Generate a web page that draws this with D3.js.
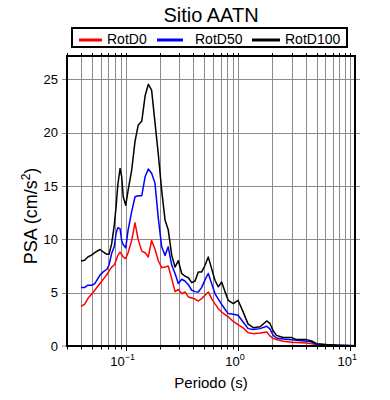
<!doctype html>
<html>
<head>
<meta charset="utf-8"/>
<style>
  html, body { margin: 0; padding: 0; background: #fff; }
  svg { display: block; font-family: "Liberation Sans", Arial, Helvetica, sans-serif; }
</style>
<script src="https://d3js.org/d3.v7.min.js"></script>
</head>
<body>
<svg id="chart" width="390" height="400"></svg>
<script>
// Periods (s) and pseudo-spectral accelerations
var periods = [0.04, 0.043, 0.046, 0.05, 0.053, 0.059, 0.063, 0.068, 0.071, 0.075,
  0.079, 0.082, 0.085, 0.089, 0.092, 0.095, 0.1, 0.105, 0.113, 0.121,
  0.129, 0.139, 0.149, 0.159, 0.17, 0.182, 0.195, 0.209, 0.224, 0.239,
  0.257, 0.275, 0.294, 0.315, 0.337, 0.361, 0.387, 0.414, 0.443, 0.475,
  0.508, 0.543, 0.582, 0.623, 0.667, 0.715, 0.765, 0.818, 0.907, 1.0,
  1.11, 1.23, 1.37, 1.57, 1.8, 1.92, 2.06, 2.2, 2.52, 3.0,
  3.32, 4.08, 4.52, 5.0, 6.14, 7.54, 8.93, 11];

var rotD0 = [3.73, 3.9, 4.45, 4.9, 5.23, 5.86, 6.25, 6.7, 7.05, 7.4,
  7.6, 8.0, 8.5, 8.8, 8.6, 8.35, 8.2, 8.75, 9.9, 11.55,
  10.0, 8.9, 8.75, 8.35, 9.9, 9.1, 8.0, 7.35, 7.4, 7.5,
  6.3, 5.1, 5.3, 4.9, 5.07, 4.6, 4.5, 4.4, 4.22, 4.45,
  4.76, 5.07, 4.45, 3.95, 3.5, 3.19, 2.95, 2.75, 2.3, 2.0,
  1.7, 1.25, 1.16, 1.22, 1.31, 0.95, 0.7, 0.6, 0.45, 0.35,
  0.32, 0.27, 0.2, 0.15, 0.09, 0.06, 0.04, 0.03];

var rotD50 = [5.48, 5.48, 5.7, 5.7, 5.85, 6.65, 6.95, 7.2, 7.6, 8.7,
  9.3, 10.55, 11.1, 11.0, 9.9, 9.5, 9.2, 10.86, 12.6, 14.0,
  14.1, 14.1, 15.9, 16.6, 16.2, 15.3, 12.0, 9.3, 8.5, 9.3,
  7.57, 6.8, 5.86, 6.26, 6.1, 5.75, 5.23, 5.1, 5.07, 5.5,
  6.2, 6.8, 5.86, 4.92, 4.4, 3.9, 3.45, 3.04, 2.97, 2.88,
  2.25, 1.63, 1.54, 1.63, 1.85, 1.6, 1.0, 0.75, 0.65, 0.58,
  0.55, 0.45, 0.38, 0.16, 0.1, 0.06, 0.04, 0.03];

var rotD100 = [7.98, 8.04, 8.35, 8.55, 8.75, 9.05, 8.82, 8.6, 8.6, 9.6,
  11.3, 13.0, 15.1, 16.65, 15.9, 14.0, 13.2, 14.6, 16.5, 19.2,
  20.7, 21.1, 23.5, 24.55, 24.0, 21.0, 18.0, 14.6, 11.8, 10.9,
  8.5, 7.4, 8.0, 6.8, 6.55, 6.4, 5.95, 6.1, 6.95, 6.95,
  7.57, 8.35, 7.26, 6.17, 5.55, 6.0, 5.1, 4.29, 3.98, 4.29,
  3.2, 2.05, 1.72, 1.8, 2.35, 2.13, 1.4, 1.0, 0.79, 0.79,
  0.6, 0.6, 0.47, 0.22, 0.13, 0.07, 0.05, 0.03];

var seriesNames = ["RotD0", "RotD50", "RotD100"];
var seriesColors = ["#ff0000", "#0000ff", "#000000"];
var yTicks = [0, 5, 10, 15, 20, 25];
var xDecades = [0.1, 1, 10];
var xDecadeExp = ["\u22121", "0", "1"];

(function() {
  var svg = d3.select("#chart");
  var pl = 67, pr = 355, pt = 56, pb = 346;

  var x = d3.scaleLog().domain([0.03, 11]).range([pl, pr]);
  var y = d3.scaleLinear().domain([0, 27.2]).range([pb, pt]);

  // minor grid positions: every 1..9 x decade inside the domain
  var gridX = [];
  [0.01, 0.1, 1, 10].forEach(function(dec) {
    for (var k = 1; k <= 9; k++) {
      var v = +(k * dec).toPrecision(3);
      if (v >= 0.03 && v <= 11) gridX.push(v);
    }
  });
  var px = function(d) { return Math.round(x(d)) + 0.5; };

  // title
  svg.append("text")
    .attr("x", (pl + pr) / 2).attr("y", 22)
    .attr("text-anchor", "middle")
    .attr("font-size", 20)
    .text("Sitio AATN");

  // legend
  var lg = svg.append("g");
  lg.append("rect")
    .attr("x", 72).attr("y", 28).attr("width", 275).attr("height", 19)
    .attr("fill", "#fff").attr("stroke", "#000").attr("stroke-width", 2);
  var legendPos = [[79, 102, 107], [157, 183, 195], [252, 280, 285]];
  seriesNames.forEach(function(name, i) {
    var p = legendPos[i];
    lg.append("line")
      .attr("x1", p[0]).attr("x2", p[1]).attr("y1", 40).attr("y2", 40)
      .attr("stroke", seriesColors[i]).attr("stroke-width", 3);
    lg.append("text")
      .attr("x", p[2]).attr("y", 44)
      .attr("font-size", 14)
      .text(name);
  });

  // grid
  var grid = svg.append("g").attr("stroke", "#8c8c8c").attr("stroke-width", 1);
  grid.selectAll(".vx").data(gridX).enter().append("line")
    .attr("x1", px).attr("x2", px)
    .attr("y1", pt).attr("y2", pb);
  grid.selectAll(".hy").data(yTicks.slice(1)).enter().append("line")
    .attr("y1", function(d) { return Math.round(y(d)) + 0.5; })
    .attr("y2", function(d) { return Math.round(y(d)) + 0.5; })
    .attr("x1", pl - 5).attr("x2", pr + 5);
  grid.append("line")
    .attr("x1", pl - 5).attr("x2", pl).attr("y1", pb).attr("y2", pb);

  // curves
  svg.append("clipPath").attr("id", "clip").append("rect")
    .attr("x", pl).attr("y", pt).attr("width", pr - pl).attr("height", pb - pt);

  var line = d3.line()
    .x(function(d) { return x(d[0]); })
    .y(function(d) { return y(d[1]); });

  [rotD0, rotD50, rotD100].forEach(function(vals, i) {
    svg.append("path")
      .datum(periods.map(function(p, j) { return [p, vals[j]]; }))
      .attr("clip-path", "url(#clip)")
      .attr("fill", "none")
      .attr("stroke", seriesColors[i])
      .attr("stroke-width", 1.5)
      .attr("stroke-linejoin", "round")
      .attr("d", line);
  });

  // frame
  svg.append("rect")
    .attr("x", pl).attr("y", pt).attr("width", pr - pl).attr("height", pb - pt)
    .attr("fill", "none").attr("stroke", "#000").attr("stroke-width", 2);

  // bottom and top ticks
  var ticks = svg.append("g").attr("stroke", "#000").attr("stroke-width", 1);
  ticks.selectAll(".bt").data(gridX).enter().append("line")
    .attr("x1", px).attr("x2", px)
    .attr("y1", pb)
    .attr("y2", function(d) { return xDecades.indexOf(d) >= 0 ? pb + 5 : pb + 3.5; });
  ticks.selectAll(".tt").data(gridX).enter().append("line")
    .attr("x1", px).attr("x2", px)
    .attr("y1", pt).attr("y2", pt - 3);

  // y tick labels
  svg.selectAll(".yl").data(yTicks).enter().append("text")
    .attr("x", 58).attr("y", function(d) { return y(d) + 4.5; })
    .attr("text-anchor", "end")
    .attr("font-size", 13)
    .text(function(d) { return d; });

  // x tick labels
  xDecades.forEach(function(d, i) {
    var t = svg.append("text")
      .attr("x", x(d) - 3).attr("y", 366)
      .attr("text-anchor", "middle")
      .attr("font-size", 13);
    t.append("tspan").text("10");
    t.append("tspan").attr("dy", -6).attr("font-size", 9).text(xDecadeExp[i]);
  });

  // axis labels
  svg.append("text")
    .attr("x", (pl + pr) / 2).attr("y", 388)
    .attr("text-anchor", "middle")
    .attr("font-size", 15)
    .text("Periodo (s)");

  var yl = svg.append("text")
    .attr("transform", "translate(37,216) rotate(-90)")
    .attr("text-anchor", "middle")
    .attr("font-size", 18);
  yl.append("tspan").text("PSA (cm/s");
  yl.append("tspan").attr("dy", -7).attr("font-size", 12).text("2");
  yl.append("tspan").attr("dy", 7).text(")");
})();
</script>
</body>
</html>
